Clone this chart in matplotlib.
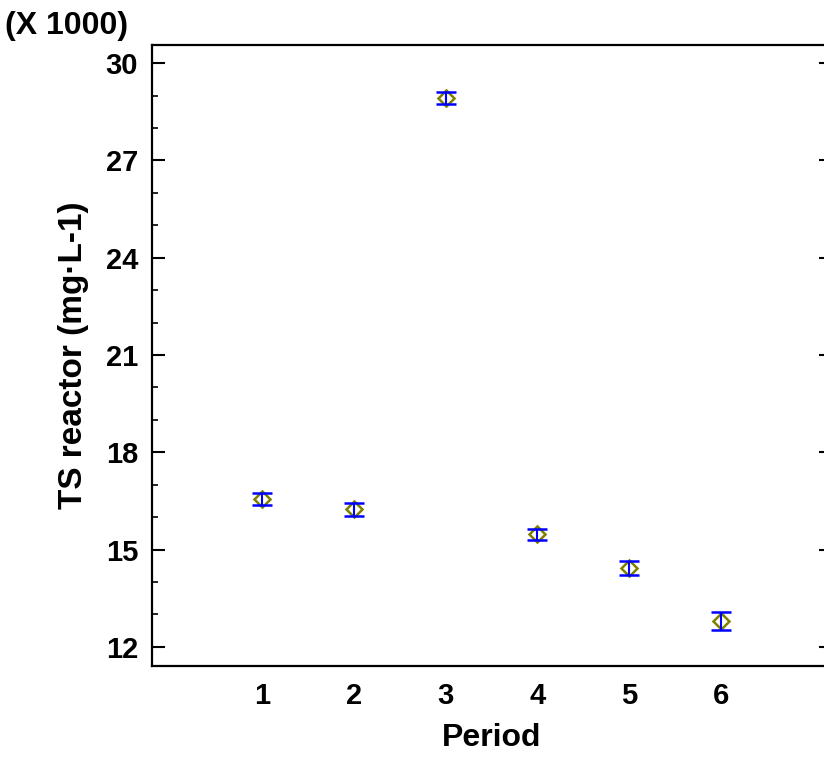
import matplotlib
matplotlib.use('Agg')
import matplotlib.pyplot as plt
from matplotlib.ticker import MultipleLocator

# ── data (TS reactor, in thousands of mg/L) ──────────────────────────────────
periods = [1, 2, 3, 4, 5, 6]
ts_mean = [16.56, 16.24, 28.93, 15.47, 14.44, 12.80]
ts_err  = [0.18, 0.19, 0.19, 0.17, 0.22, 0.29]

plt.rcParams['font.family'] = ['Liberation Sans', 'DejaVu Sans']
plt.rcParams['font.weight'] = 'bold'
FS = 21

fig = plt.figure(figsize=(8.24, 7.57), dpi=100)
ax = fig.add_axes([0.1845, 0.1206, 0.824, 0.82])

# markers under the bars so the blue line crosses the diamond
ax.plot(periods, ts_mean, linestyle='none', marker='D', markersize=8.5,
        markerfacecolor='none', markeredgecolor='#808000', markeredgewidth=1.8,
        zorder=2)
ax.errorbar(periods, ts_mean, yerr=ts_err, fmt='none', ecolor='#0000ff',
            elinewidth=1.5, capsize=7, capthick=1.8, zorder=3)

ax.set_xlim(-0.2, 7.2)
ax.set_ylim(11.42, 30.56)
ax.set_xticks(periods)
ax.yaxis.set_major_locator(MultipleLocator(3))
ax.yaxis.set_minor_locator(MultipleLocator(1))

ax.tick_params(axis='x', length=0, labelsize=FS, pad=12)
ax.tick_params(axis='y', which='major', direction='in', length=9, width=1.5,
               labelsize=FS, pad=10, right=True)
ax.tick_params(axis='y', which='minor', direction='in', length=4, width=1.2,
               right=False)
for side in ['left', 'bottom', 'top', 'right']:
    ax.spines[side].set_linewidth(1.6)

ax.set_xlabel('Period', fontsize=23, fontweight='bold', labelpad=9)
ax.set_ylabel('TS reactor (mg·L-1)', fontsize=24, fontweight='bold', labelpad=12)
fig.text(0.006, 0.965, '(X 1000)', fontsize=23, fontweight='bold',
         ha='left', va='center')

fig.savefig('out.png', dpi=100)
